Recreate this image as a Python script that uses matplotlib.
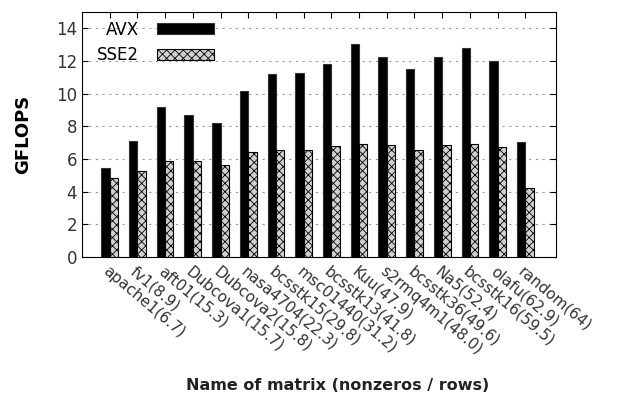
import matplotlib
matplotlib.use('Agg')
import matplotlib.pyplot as plt
import numpy as np

matrices = ['apache1(6.7)', 'fv1(8.9)', 'aft01(15.3)', 'Dubcova1(15.7)', 'Dubcova2(15.8)',
            'nasa4704(22.3)', 'bcsstk15(29.8)', 'msc01440(31.2)', 'bcsstk13(41.8)',
            'Kuu(47.9)', 's2rmq4m1(48.0)', 'bcsstk36(49.6)', 'Na5(52.4)', 'bcsstk16(59.5)',
            'olafu(62.9)', 'random(64)']
avx = [5.43, 7.12, 9.16, 8.67, 8.18, 10.15, 11.21, 11.29, 11.84,
       13.04, 12.25, 11.48, 12.25, 12.82, 11.97, 7.06]
sse2 = [4.86, 5.29, 5.86, 5.86, 5.64, 6.41, 6.55, 6.55, 6.78,
        6.90, 6.84, 6.55, 6.84, 6.90, 6.72, 4.21]

plt.rcParams['hatch.linewidth'] = 0.6

fig = plt.figure(figsize=(6.21, 3.96), dpi=100)
ax = fig.add_axes([0.132, 0.351, 0.763, 0.619])

x = np.arange(len(matrices))
w = 0.3
ax.bar(x - w / 2, avx, width=w, color='black', edgecolor='#333333', linewidth=0.8, label='AVX', zorder=3)
ax.bar(x + w / 2, sse2, width=w, color='#d0d0d0', edgecolor='black', linewidth=0.8,
       hatch='xxxx', label='SSE2', zorder=3)

ax.set_xlim(-1, 16.1)
ax.set_ylim(0, 15)
ax.set_yticks(range(0, 15, 2))
ax.set_xticks(x)
ax.set_xticklabels(matrices, rotation=-40, ha='left', va='top', rotation_mode='anchor')
ax.tick_params(axis='both', direction='in', top=True, right=True, labelsize=12,
               labelcolor='#333333', length=4)
ax.tick_params(axis='x', labelsize=11, pad=5)
ax.yaxis.grid(True, linestyle=(0, (2, 4)), color='#999999', linewidth=0.8, zorder=0)

ax.set_ylabel('GFLOPS', fontsize=13, fontweight='bold', labelpad=17)
fig.text(0.543, 0.026, 'Name of matrix (nonzeros / rows)', fontsize=11.5, fontweight='bold',
         ha='center', va='center', color='#222222')

ax.legend(loc='upper left', bbox_to_anchor=(0.0, 1.025), frameon=False, markerfirst=False,
          fontsize=12, handlelength=3.4, handleheight=0.65, labelspacing=0.45,
          handletextpad=1.1)

plt.savefig('out.png', dpi=100)
